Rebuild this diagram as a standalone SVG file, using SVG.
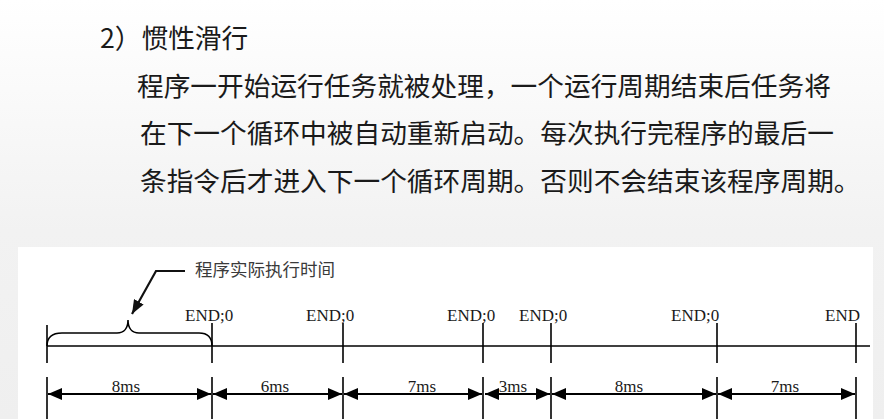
<svg xmlns="http://www.w3.org/2000/svg" width="884" height="419" viewBox="0 0 884 419">
<defs>
<linearGradient id="bg" x1="0" y1="0" x2="0" y2="1">
<stop offset="0" stop-color="#ffffff"/>
<stop offset="0.55" stop-color="#f2f2f2"/>
<stop offset="1" stop-color="#efefef"/>
</linearGradient>
<marker id="ah" viewBox="0 0 14 12" refX="14" refY="6" markerWidth="14" markerHeight="12" markerUnits="userSpaceOnUse" orient="auto-start-reverse">
<path d="M0,0 L14,6 L0,12 z" fill="#000"/>
</marker>
<marker id="ah2" viewBox="0 0 14 11" refX="14" refY="5.5" markerWidth="14" markerHeight="11" markerUnits="userSpaceOnUse" orient="auto">
<path d="M0,0 L14,5.5 L0,11 z" fill="#111"/>
</marker>
</defs>
<style>
.cn{font-family:"Noto Sans CJK SC","Noto Sans",sans-serif;font-size:26.7px;fill:#1a1a1a}
.lbl{font-family:"Liberation Serif","Times New Roman",serif;font-size:17px;fill:#1a1a1a}
.note{font-family:"Noto Sans CJK SC",sans-serif;font-size:17.5px;fill:#3a3a3a}
.tick{stroke:#000;stroke-width:1.6;fill:none}
.dim{stroke:#000;stroke-width:2;fill:none;marker-start:url(#ah);marker-end:url(#ah)}
</style>
<rect x="0" y="0" width="884" height="419" fill="url(#bg)"/>
<g id="text-block">
<text class="cn" x="100" y="48">2）惯性滑行</text>
<text class="cn" x="137" y="96">程序一开始运行任务就被处理，一个运行周期结束后任务将</text>
<text class="cn" x="140" y="143">在下一个循环中被自动重新启动。每次执行完程序的最后一</text>
<text class="cn" x="140" y="191">条指令后才进入下一个循环周期。否则不会结束该程序周期。</text>
</g>
<rect id="panel" x="18" y="247" width="855" height="172" fill="#ffffff"/>
<g id="timeline">
<line class="tick" x1="47" y1="346" x2="870" y2="346"/>
<line class="tick" x1="47" y1="325" x2="47" y2="363"/>
<line class="tick" x1="212" y1="323" x2="212" y2="363"/>
<line class="tick" x1="343" y1="323" x2="343" y2="363"/>
<line class="tick" x1="483" y1="323" x2="483" y2="363"/>
<line class="tick" x1="551" y1="323" x2="551" y2="363"/>
<line class="tick" x1="717" y1="323" x2="717" y2="363"/>
<line class="tick" x1="856" y1="323" x2="856" y2="363"/>
<line class="tick" x1="47" y1="377" x2="47" y2="419"/>
<line class="tick" x1="212" y1="377" x2="212" y2="419"/>
<line class="tick" x1="343" y1="377" x2="343" y2="419"/>
<line class="tick" x1="483" y1="377" x2="483" y2="419"/>
<line class="tick" x1="551" y1="377" x2="551" y2="419"/>
<line class="tick" x1="717" y1="377" x2="717" y2="419"/>
<line class="tick" x1="856" y1="377" x2="856" y2="419"/>
</g>
<g id="end-labels">
<text class="lbl" x="185" y="321">END;0</text>
<text class="lbl" x="306" y="321">END;0</text>
<text class="lbl" x="447" y="321">END;0</text>
<text class="lbl" x="519" y="321">END;0</text>
<text class="lbl" x="671" y="321">END;0</text>
<text class="lbl" x="825" y="321">END</text>
</g>
<g id="brace">
<path class="tick" d="M47,346 C47,337 52,333 62,333 L117,333 C124,333 128,328 128,320 C128,328 132,333 139,333 L199,333 C208,333 212,338 212,346"/>
</g>
<g id="note">
<text class="note" x="195" y="276">程序实际执行时间</text>
</g>
<g id="connectors">
<path d="M185,271 L156,271 L132,314" stroke="#111" stroke-width="2.2" fill="none" marker-end="url(#ah2)"/>
<line class="dim" x1="48" y1="394" x2="211" y2="394"/>
<line class="dim" x1="213" y1="394" x2="342" y2="394"/>
<line class="dim" x1="344" y1="394" x2="482" y2="394"/>
<line class="dim" x1="485" y1="394" x2="550" y2="394"/>
<line class="dim" x1="552" y1="394" x2="716" y2="394"/>
<line class="dim" x1="718" y1="394" x2="855" y2="394"/>
</g>
<g id="dim-labels">
<text class="lbl" x="126" y="392" text-anchor="middle">8ms</text>
<text class="lbl" x="275" y="392" text-anchor="middle">6ms</text>
<text class="lbl" x="422" y="392" text-anchor="middle">7ms</text>
<text class="lbl" x="513" y="392" text-anchor="middle">3ms</text>
<text class="lbl" x="629" y="392" text-anchor="middle">8ms</text>
<text class="lbl" x="785" y="392" text-anchor="middle">7ms</text>
</g>
</svg>
